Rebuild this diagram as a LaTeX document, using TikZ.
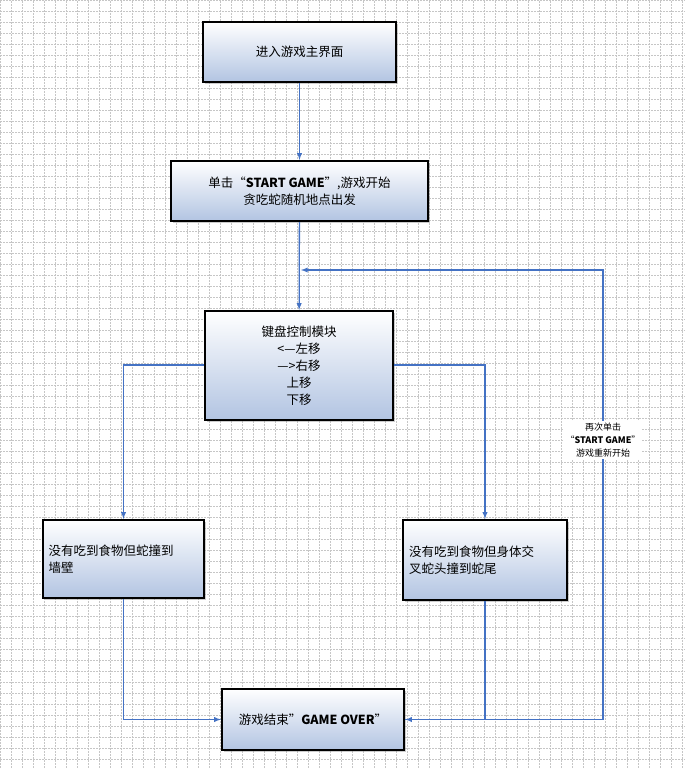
\documentclass[tikz,border=0pt]{standalone}
\usepackage{fontspec}
\newfontfamily\cjk{Noto Sans CJK SC}
\usetikzlibrary{shadows}
\definecolor{boxblue}{RGB}{178,196,226}
\definecolor{linkblue}{RGB}{68,114,196}
\tikzset{
stage/.style={draw=black,line width=2.2pt,top color=white,bottom color=boxblue,
  drop shadow={shadow xshift=2pt,shadow yshift=-2pt,opacity=0.4},
  font=\cjk\fontsize{12.5}{17}\selectfont,align=center,inner sep=0pt},
flow/.style={->,>=latex,draw=linkblue,line width=1.3pt},
}
\begin{document}
\begin{tikzpicture}[x=1pt,y=-1pt]
\useasboundingbox (0,0) rectangle (685,768);
\fill[white] (0,0) rectangle (685,768);
\draw[gray!45,dash pattern=on 2pt off 1pt,line width=0.4pt] (0,0) grid[step=11pt] (685,768);

\node (enter) [stage,minimum width=193pt,minimum height=60pt] at (299.5,52) {进入游戏主界面};
\node (start) [stage,minimum width=257pt,minimum height=60pt] at (299.5,191) {单击“\textbf{START GAME}”,游戏开始\\贪吃蛇随机地点出发};
\node (keys) [stage,minimum width=188pt,minimum height=109pt] at (299,365.5) {键盘控制模块\\<—左移\\—>右移\\上移\\下移};
\node (wall) [stage,minimum width=161pt,minimum height=78pt,align=left,text width=150pt] at (123.5,559) {没有吃到食物但蛇撞到\\墙壁};
\node (tail) [stage,minimum width=164pt,minimum height=80pt,align=left,text width=152pt] at (485,560) {没有吃到食物但身体交\\叉蛇头撞到蛇尾};
\node (over) [stage,minimum width=182pt,minimum height=61pt] at (313,719.5) {游戏结束”\textbf{GAME OVER}”};

\coordinate (back) at (301,270);
\node (again) [fill=white,font=\cjk\fontsize{9}{13}\selectfont,align=center,inner sep=2pt] at (603,440) {再次单击\\“\textbf{START GAME}”\\游戏重新开始};

\draw[flow] (enter) -- (start);
\draw[flow] (start) -- (keys);
\draw[flow] (keys.west |- 0,365) -| (wall.north);
\draw[flow] (keys.east |- 0,365) -| (tail.north);
\draw[flow] (wall.south) |- (over.west);
\draw[flow] (tail.south) |- (over.east);
\draw[flow] (over.east) -| (again.south) (again.north) |- (back);
\end{tikzpicture}
\end{document}
